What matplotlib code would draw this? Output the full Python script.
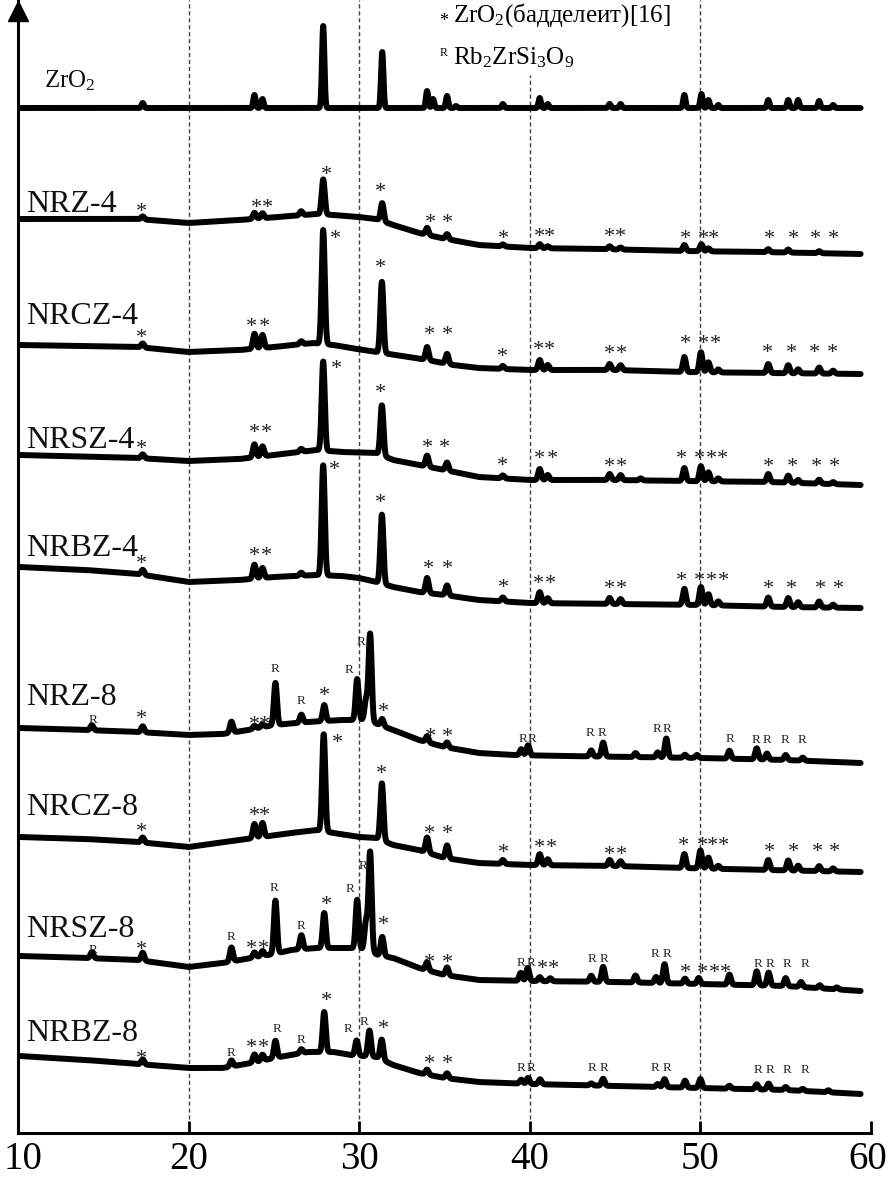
import numpy as np
import matplotlib.pyplot as plt
from matplotlib.transforms import ScaledTranslation

plt.rcParams["font.family"] = ["Liberation Serif", "DejaVu Serif"]
plt.rcParams["mathtext.fontset"] = "custom"
plt.rcParams["mathtext.rm"] = "Liberation Serif"
plt.rcParams["mathtext.it"] = "Liberation Serif:italic"
plt.rcParams["mathtext.bf"] = "Liberation Serif:bold"

# 2theta range of the scans
scan_start, scan_end = 10.1, 59.4

# ---- ZrO2 reference ----
zro2_bg_x = [10.1, 59.4]
zro2_bg_y = [1025, 1025]
zro2_pos = [17.31, 23.86, 24.33, 27.89, 31.35, 33.98, 34.33, 35.15, 35.67, 38.42, 40.58, 41.05,
            44.68, 45.32, 49.06, 50.06, 50.47, 51.05, 53.98, 55.15, 55.73, 56.96, 57.78]
zro2_h = [5, 13, 9, 82, 56, 17, 9, 12, 2, 4, 10, 4, 4, 4, 13, 14, 8, 3, 8, 8, 8, 7, 3]

# ---- NRZ-4 ----
nrz4_bg_x = [10.1, 13, 17, 20, 23, 26, 27.5, 28.5, 30, 31, 32, 33.5, 34.8, 37, 40, 44, 49, 53.5, 59.4]
nrz4_bg_y = [914, 914, 914, 910, 913, 917, 919, 918, 916, 914, 908, 900, 895, 888, 885, 884, 882, 881, 879]
nrz4_pos = [17.31, 23.86, 24.33, 26.6, 27.89, 31.35, 33.98, 35.15, 38.42, 40.58, 41.05, 44.68, 45.32,
            49.06, 50.06, 50.47, 53.98, 55.15, 56.96]
nrz4_h = [3, 6, 5, 4, 35, 18, 7, 5, 2, 4, 2, 3, 2, 6, 7, 3, 3, 3, 2]
nrz4_sym = "*" * 19
nrz4_mx = [17.25, 23.98, 24.62, 28.07, 31.23, 34.15, 35.20, 38.48, 40.58, 41.17, 44.68, 45.32, 49.12,
           50.18, 50.76, 54.04, 55.44, 56.73, 57.78]
nrz4_my = [927, 931, 931, 964, 947, 916, 916, 900, 902, 902, 902, 902, 900, 900, 900, 900, 900, 900, 900]

# ---- NRCZ-4 ----
nrcz4_bg_x = [10.1, 17, 20, 23, 25, 27.3, 28.5, 29.5, 31, 32.5, 34, 35.5, 37, 40, 45, 49, 54, 59.4]
nrcz4_bg_y = [788, 786, 781, 783, 786, 790, 788, 785, 781, 777, 773, 768, 765, 763, 763, 761, 760, 759]
nrcz4_pos = [17.31, 23.86, 24.33, 26.6, 27.89, 31.33, 33.98, 35.15, 38.42, 40.58, 41.05, 44.68, 45.32,
             49.06, 50.03, 50.47, 51.05, 53.98, 55.15, 55.73, 56.96, 57.78]
nrcz4_h = [4, 15, 13, 3, 114, 71, 13, 10, 3, 10, 5, 6, 5, 15, 20, 10, 3, 9, 8, 4, 6, 3]
nrcz4_sym = "*" * 19
nrcz4_mx = [17.25, 23.7, 24.44, 28.6, 31.23, 34.09, 35.2, 38.42, 40.53, 41.17, 44.68, 45.38, 49.12,
            50.18, 50.88, 53.92, 55.32, 56.67, 57.72]
nrcz4_my = [801, 812, 812, 900, 871, 804, 804, 782, 789, 789, 785, 785, 795, 795, 795, 786, 786, 786, 786]

# ---- NRSZ-4 ----
nrsz4_bg_x = [10.1, 17, 20, 23, 25, 27.5, 29, 31, 32, 33.5, 35, 37, 40, 45, 49, 54, 59.4]
nrsz4_bg_y = [678, 675, 672, 674, 678, 683, 681, 680, 673, 668, 663, 656, 653, 653, 652, 651, 648]
nrsz4_pos = [17.31, 23.86, 24.33, 26.6, 27.89, 31.33, 33.98, 35.15, 38.42, 40.58, 41.05, 44.68, 45.32,
             46.5, 49.06, 50.03, 50.47, 51.05, 53.98, 55.15, 55.73, 56.96, 57.78]
nrsz4_h = [4, 13, 10, 3, 89, 50, 11, 8, 3, 11, 5, 6, 5, 2, 13, 15, 9, 3, 8, 7, 3, 4, 2]
nrsz4_sym = "*" * 20
nrsz4_mx = [17.25, 23.86, 24.56, 28.65, 31.23, 33.98, 34.97, 38.42, 40.58, 41.35, 44.68, 45.38, 48.89,
            49.94, 50.64, 51.29, 53.98, 55.38, 56.78, 57.84]
nrsz4_my = [690, 706, 706, 770, 746, 691, 691, 673, 680, 680, 672, 672, 680, 680, 680, 680, 672, 672, 672, 672]

# ---- NRBZ-4 ----
nrbz4_bg_x = [10.1, 14, 17, 20, 23, 25, 27.5, 29, 30, 31, 32, 33.5, 35, 37, 40, 45, 50, 55, 59.4]
nrbz4_bg_y = [566, 563, 559, 551, 553, 556, 558, 557, 555, 551, 546, 541, 538, 533, 530, 529, 528, 526, 525]
nrbz4_pos = [17.31, 23.86, 24.33, 26.6, 27.89, 31.33, 33.98, 35.15, 38.42, 40.58, 41.05, 44.68, 45.32,
             49.06, 50.03, 50.47, 51.05, 53.98, 55.15, 55.73, 56.96, 57.78]
nrbz4_h = [5, 14, 10, 3, 110, 69, 15, 10, 4, 11, 5, 6, 5, 16, 18, 11, 4, 9, 9, 5, 6, 3]
nrbz4_sym = "*" * 20
nrbz4_mx = [17.25, 23.86, 24.56, 28.54, 31.23, 34.04, 35.15, 38.48, 40.53, 41.23, 44.68, 45.38, 48.89,
            49.94, 50.64, 51.35, 53.98, 55.32, 57.02, 58.07]
nrbz4_my = [575, 583, 583, 669, 636, 570, 570, 551, 555, 555, 550, 550, 558, 558, 558, 558, 550, 550, 550, 550]

# ---- NRZ-8 ----
nrz8_bg_x = [10.1, 14, 17, 20, 22, 23.5, 25, 27, 29, 30.5, 31.2, 32, 33.5, 35, 37, 39, 42, 46, 50, 55, 59.4]
nrz8_bg_y = [405, 403, 401, 398, 399, 403, 408, 411, 413, 413, 408, 403, 393, 386, 380, 378, 377, 376, 375, 373, 370]
nrz8_pos = [14.33, 17.31, 22.51, 23.86, 24.33, 25.09, 26.61, 27.95, 29.88, 30.4, 30.64, 31.35, 33.98, 35.15,
            39.5, 39.9, 43.6, 44.3, 46.2, 47.5, 48.0, 49.1, 49.8, 51.7, 53.3, 53.9, 55.0, 56.0]
nrz8_h = [5, 6, 11, 3, 3, 42, 8, 16, 41, 20, 87, 7, 6, 5, 6, 10, 6, 14, 4, 5, 19, 3, 3, 8, 11, 6, 5, 3]
nrz8_sym = "R***RR*RR***RRRRRRRRRRR"
nrz8_mx = [14.39, 17.25, 23.86, 24.44, 25.09, 26.61, 27.95, 29.42, 30.12, 31.40, 34.15, 35.20,
           39.59, 40.12, 43.51, 44.21, 47.43, 48.07, 51.75, 53.27, 53.92, 54.97, 55.96]
nrz8_my = [413, 420, 414, 414, 464, 432, 443, 463, 491, 427, 402, 402,
           394, 394, 400, 400, 404, 404, 394, 393, 393, 393, 393]

# ---- NRCZ-8 ----
nrcz8_bg_x = [10.1, 14, 17, 20, 23, 26, 27.5, 28.5, 30, 31, 32, 33.5, 35, 37, 40, 45, 49, 54, 59.4]
nrcz8_bg_y = [296, 294, 291, 286, 293, 300, 303, 300, 296, 295, 288, 283, 275, 270, 268, 267, 265, 263, 261]
nrcz8_pos = [17.31, 23.86, 24.33, 27.92, 31.33, 33.98, 35.15, 38.42, 40.58, 41.05, 44.68, 45.32,
             49.06, 50.0, 50.47, 51.05, 53.98, 55.15, 55.73, 56.96, 57.78]
nrcz8_h = [5, 14, 14, 97, 57, 15, 13, 4, 11, 6, 6, 5, 14, 18, 11, 3, 10, 10, 5, 5, 3]
nrcz8_sym = "*" * 20
nrcz8_mx = [17.25, 23.86, 24.44, 28.71, 31.29, 34.09, 35.2, 38.48, 40.58, 41.29, 44.68, 45.38, 49.01,
            50.12, 50.70, 51.35, 54.04, 55.44, 56.84, 57.84]
nrcz8_my = [307, 323, 323, 396, 365, 305, 305, 286, 291, 291, 284, 284, 293, 293, 293, 293, 287, 287, 287, 287]

# ---- NRSZ-8 ----
nrsz8_bg_x = [10.1, 14, 17, 20, 22, 24, 25, 26, 27.5, 29.5, 30.5, 31.1, 32, 33.5, 35, 37, 40, 45, 50, 55, 59.4]
nrsz8_bg_y = [177, 175, 173, 166, 170, 176, 179, 183, 185, 185, 183, 178, 175, 165, 158, 153, 152, 151, 149, 147, 142]
nrsz8_pos = [14.33, 17.31, 22.51, 23.86, 24.33, 25.09, 26.61, 27.95, 29.88, 30.4, 30.64, 31.35, 33.98, 35.15,
             39.47, 39.88, 40.58, 41.2, 43.6, 44.3, 46.2, 47.4, 47.9, 49.1, 49.9, 51.7, 53.3, 54.0,
             55.0, 55.9, 57.0, 58.0]
nrsz8_h = [6, 8, 14, 5, 5, 53, 14, 35, 49, 28, 99, 19, 8, 8, 8, 13, 4, 3, 6, 15, 7, 6, 19, 5, 6, 10, 14, 13,
           8, 5, 3, 2]
nrsz8_sym = "R*R**RR*RR***RR**RRRR****RRRR"
nrsz8_mx = [14.39, 17.25, 22.51, 23.68, 24.39, 25.03, 26.61, 28.07, 29.47, 30.23, 31.40, 34.09, 35.2,
            39.47, 40.06, 40.76, 41.40, 43.63, 44.33, 47.31, 48.07, 49.12, 50.12, 50.82, 51.46,
            53.39, 54.09, 55.09, 56.14]
nrsz8_my = [183, 189, 196, 190, 190, 245, 207, 234, 244, 267, 214, 176, 176,
            170, 170, 170, 170, 174, 174, 179, 179, 166, 166, 166, 166, 169, 169, 169, 169]

# ---- NRBZ-8 ----
nrbz8_bg_x = [10.1, 14, 17, 20, 22, 24, 25, 27, 28.5, 29.5, 31, 32, 33.5, 35, 37, 40, 45, 50, 55, 59.4]
nrbz8_bg_y = [77, 73, 69, 65, 65, 71, 75, 81, 81, 78, 76, 68, 60, 55, 51, 49, 47, 45, 43, 39]
nrbz8_pos = [17.31, 22.51, 23.86, 24.33, 25.09, 26.61, 27.95, 29.85, 30.6, 31.32, 33.98, 35.15,
             39.5, 39.9, 40.6, 43.6, 44.3, 47.5, 47.9, 49.1, 50.0, 51.7, 53.3, 54.0, 55.0, 56.0, 57.5]
nrbz8_h = [5, 6, 8, 6, 17, 4, 40, 15, 26, 20, 5, 5, 4, 6, 5, 2, 7, 3, 8, 7, 9, 3, 5, 6, 3, 2, 2]
nrbz8_sym = "*R**RR*RR***RRRRRRRRRR"
nrbz8_mx = [17.25, 22.51, 23.68, 24.39, 25.20, 26.61, 28.07, 29.36, 30.29, 31.40, 34.09, 35.2,
            39.47, 40.06, 43.63, 44.33, 47.31, 48.07, 53.39, 54.09, 55.09, 56.14]
nrbz8_my = [80, 80, 91, 91, 104, 93, 138, 104, 111, 110, 75, 75,
            65, 65, 65, 65, 65, 65, 63, 63, 63, 63]

labels = ["ZrO$_2$", "NRZ-4", "NRCZ-4", "NRSZ-4", "NRBZ-4", "NRZ-8", "NRCZ-8", "NRSZ-8", "NRBZ-8"]
label_y = [1046, 921, 809, 685, 577, 428, 318, 196, 92]

patterns = [
    (zro2_bg_x, zro2_bg_y, zro2_pos, zro2_h, "", [], []),
    (nrz4_bg_x, nrz4_bg_y, nrz4_pos, nrz4_h, nrz4_sym, nrz4_mx, nrz4_my),
    (nrcz4_bg_x, nrcz4_bg_y, nrcz4_pos, nrcz4_h, nrcz4_sym, nrcz4_mx, nrcz4_my),
    (nrsz4_bg_x, nrsz4_bg_y, nrsz4_pos, nrsz4_h, nrsz4_sym, nrsz4_mx, nrsz4_my),
    (nrbz4_bg_x, nrbz4_bg_y, nrbz4_pos, nrbz4_h, nrbz4_sym, nrbz4_mx, nrbz4_my),
    (nrz8_bg_x, nrz8_bg_y, nrz8_pos, nrz8_h, nrz8_sym, nrz8_mx, nrz8_my),
    (nrcz8_bg_x, nrcz8_bg_y, nrcz8_pos, nrcz8_h, nrcz8_sym, nrcz8_mx, nrcz8_my),
    (nrsz8_bg_x, nrsz8_bg_y, nrsz8_pos, nrsz8_h, nrsz8_sym, nrsz8_mx, nrsz8_my),
    (nrbz8_bg_x, nrbz8_bg_y, nrbz8_pos, nrbz8_h, nrbz8_sym, nrbz8_mx, nrbz8_my),
]

fig = plt.figure(figsize=(8.91, 11.93), dpi=100)
ax = fig.add_axes([18 / 891, 60 / 1193, 853 / 891, 1133 / 1193])
ax.set_xlim(10, 60)
ax.set_ylim(0, 1133)

two_theta = np.arange(scan_start, scan_end, 0.01)
for i, (bx, by, pos, h, sym, mx, my) in enumerate(patterns):
    width = 0.07 if i == 0 else 0.09
    counts = np.interp(two_theta, bx, by)
    for p, a in zip(pos, h):
        counts = counts + a * np.exp(-0.5 * ((two_theta - p) / width) ** 2)
    ax.plot(two_theta, counts, color="black", lw=4.3, solid_joinstyle="round",
            solid_capstyle="round", zorder=3)
    for s, x, y in zip(sym, mx, my):
        if s == "*":
            ax.annotate("*", (x, y), xytext=(0, -4.5), textcoords="offset points",
                        ha="center", va="center", fontsize=16, color="#222222", zorder=4)
        else:
            ax.annotate("R", (x, y), ha="center", va="center", fontsize=9.5,
                        color="#222222", zorder=4)
    ax.text(11.55 if i == 0 else 10.5, label_y[i], labels[i], ha="left", va="baseline",
            fontsize=18 if i == 0 else 23, color="#111111")

# dashed guides
for gx in [20, 30, 50]:
    ax.plot([gx, gx], [0, 1133], color="0.25", lw=1.0, ls=(0, (3, 2)), zorder=1)
ax.plot([40, 40], [0, 1058], color="0.25", lw=1.0, ls=(0, (3, 2)), zorder=1)

# legend text
ax.annotate("*", (34.94, 1116), xytext=(0, -3.5), textcoords="offset points",
            ha="center", va="center", fontsize=13)
ax.text(35.5, 1111, "ZrO$_2$(бадделеит)[16]", ha="left", va="baseline", fontsize=18)
ax.annotate("R", (34.94, 1080), ha="center", va="center", fontsize=8.5)
ax.text(35.5, 1069, "Rb$_2$ZrSi$_3$O$_9$", ha="left", va="baseline", fontsize=18)

# axes
for side in ["top", "right"]:
    ax.spines[side].set_visible(False)
ax.spines["left"].set_linewidth(2.2)
ax.spines["bottom"].set_linewidth(2.2)
ax.plot([10], [1122], marker="^", markersize=14, color="black", clip_on=False, zorder=5)
ax.set_yticks([])
ax.set_xticks([10, 20, 30, 40, 50, 60])
ax.tick_params(axis="x", direction="in", length=9, width=2, labelsize=28, pad=6)
first = ax.get_xticklabels()[0]
first.set_transform(first.get_transform() + ScaledTranslation(4 / 72, 0, fig.dpi_scale_trans))
last = ax.get_xticklabels()[-1]
last.set_transform(last.get_transform() + ScaledTranslation(-2 / 72, 0, fig.dpi_scale_trans))

fig.savefig("out.png", dpi=100)
